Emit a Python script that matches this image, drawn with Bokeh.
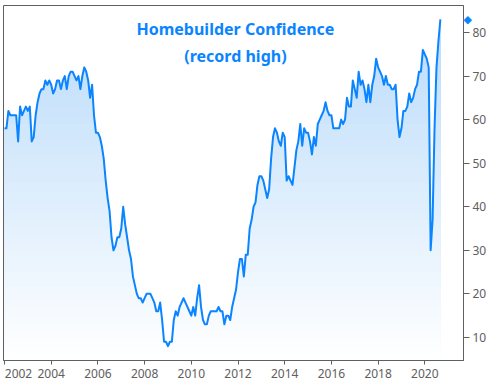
import numpy as np
from bokeh.plotting import figure
from bokeh.models import Range1d, FixedTicker, Label, CustomJSTickFormatter, LinearAxis
from bokeh.embed import file_html
from bokeh.resources import INLINE

# NAHB Housing Market Index, monthly, Jan 2002 - Sep 2020
start_year = 2002
hmi_2002 = [58, 58, 62, 61, 61, 61, 61, 55, 63, 61, 62, 63]
hmi_2003 = [62, 63, 55, 56, 61, 64, 66, 67, 67, 69, 68, 69]
hmi_2004 = [68, 66, 67, 69, 69, 67, 69, 70, 67, 70, 71, 71]
hmi_2005 = [70, 69, 70, 67, 70, 72, 71, 69, 65, 68, 61, 57]
hmi_2006 = [57, 56, 54, 51, 46, 42, 39, 33, 30, 31, 33, 33]
hmi_2007 = [35, 40, 36, 33, 30, 28, 24, 22, 20, 19, 19, 18]
hmi_2008 = [19, 20, 20, 20, 19, 18, 16, 16, 18, 14, 9, 9]
hmi_2009 = [8, 9, 9, 14, 16, 15, 17, 18, 19, 18, 17, 16]
hmi_2010 = [15, 17, 15, 19, 22, 17, 14, 13, 13, 15, 16, 16]
hmi_2011 = [16, 16, 17, 16, 16, 13, 15, 15, 14, 17, 19, 21]
hmi_2012 = [25, 28, 28, 24, 29, 29, 35, 37, 40, 41, 45, 47]
hmi_2013 = [47, 46, 44, 42, 44, 51, 56, 58, 57, 55, 54, 57]
hmi_2014 = [56, 46, 47, 46, 45, 49, 53, 55, 59, 54, 58, 57]
hmi_2015 = [57, 55, 52, 56, 54, 59, 60, 61, 62, 64, 62, 61]
hmi_2016 = [61, 58, 58, 58, 58, 60, 59, 60, 65, 63, 63, 69]
hmi_2017 = [67, 65, 71, 68, 69, 67, 64, 68, 64, 68, 70, 74]
hmi_2018 = [72, 71, 70, 68, 70, 68, 68, 67, 67, 68, 60, 56]
hmi_2019 = [58, 62, 62, 63, 66, 64, 65, 67, 68, 71, 71, 76]
hmi_2020 = [75, 74, 72, 30, 37, 58, 72, 78, 83]

x_tick_years = [2002, 2004, 2006, 2008, 2010, 2012, 2014, 2016, 2018, 2020]
y_ticks = [10, 20, 30, 40, 50, 60, 70, 80]
title_line1 = "Homebuilder Confidence"
title_line2 = "(record high)"

values = (hmi_2002 + hmi_2003 + hmi_2004 + hmi_2005 + hmi_2006 + hmi_2007 +
          hmi_2008 + hmi_2009 + hmi_2010 + hmi_2011 + hmi_2012 + hmi_2013 +
          hmi_2014 + hmi_2015 + hmi_2016 + hmi_2017 + hmi_2018 + hmi_2019 + hmi_2020)
vals = np.array(values, dtype=float)
xs = np.array([start_year + k / 12.0 for k in range(len(vals))])
last_val = float(vals[-1])

BLUE = "#0a84ff"
GRAY = "#606060"
x0, x1 = 2001.957, 2021.657
y0, y1 = 4.7, 86.2

p = figure(frame_width=460, frame_height=355, output_backend="svg", toolbar_location=None,
           x_range=Range1d(x0, x1), y_range=Range1d(y0, y1),
           y_axis_location=None, min_border_left=3, min_border_top=5,
           min_border_right=31, min_border_bottom=0)
p.background_fill_color = "white"
p.border_fill_color = "white"
p.outline_line_color = GRAY
p.outline_line_width = 1
p.xgrid.visible = False
p.ygrid.visible = False

# gradient fill under the line (stacked opaque layers)
top_rgb = (183, 218, 250)
N = 48
levels = np.linspace(y1, y0, N + 1)
for k in range(N):
    hi, lo = levels[k], levels[k + 1]
    t = ((hi + lo) / 2 - y0) / (y1 - y0)
    c = tuple(int(round(255 + t * (tc - 255))) for tc in top_rgb)
    col = "#%02x%02x%02x" % c
    p.varea(x=xs, y1=y0, y2=np.minimum(vals, hi), fill_color=col, fill_alpha=1.0)

p.line(xs, vals, line_color=BLUE, line_width=2, line_join="round")

# x axis: tick marks as minor ticks, labels as major ticks (first label nudged inside)
xa = p.xaxis[0]
xa.axis_label = None
xa.axis_line_color = GRAY
label_pos = [x_tick_years[0] + 0.6] + x_tick_years[1:]
xa.ticker = FixedTicker(ticks=label_pos, minor_ticks=x_tick_years)
xa.formatter = CustomJSTickFormatter(code="return String(Math.floor(tick + 1e-6));")
xa.major_tick_line_color = None
xa.major_tick_in = 0
xa.major_tick_out = 0
xa.minor_tick_line_color = GRAY
xa.minor_tick_in = 0
xa.minor_tick_out = 4
xa.major_label_standoff = 4
xa.major_label_text_font = "Noto Sans"
xa.major_label_text_font_size = "12px"
xa.major_label_text_color = GRAY

# inner right axis: value ticks
ya = LinearAxis(ticker=FixedTicker(ticks=y_ticks))
ya.axis_label = None
ya.axis_line_color = GRAY
ya.major_tick_line_color = GRAY
ya.minor_tick_line_color = None
ya.major_tick_in = 0
ya.major_tick_out = 6
ya.major_label_standoff = 3
ya.major_label_text_font = "Noto Sans"
ya.major_label_text_font_size = "12px"
ya.major_label_text_color = GRAY
p.add_layout(ya, "right")

# outer right axis: only the last-value diamond marker, pulled back beside the frame
mark_axis = LinearAxis(ticker=FixedTicker(ticks=[last_val]),
                       major_label_overrides={last_val: "\u25c6"})
mark_axis.axis_label = None
mark_axis.axis_line_color = None
mark_axis.major_tick_line_color = None
mark_axis.minor_tick_line_color = None
mark_axis.major_tick_in = 0
mark_axis.major_tick_out = 0
mark_axis.major_label_standoff = -26
mark_axis.major_label_text_font = "DejaVu Sans"
mark_axis.major_label_text_font_size = "11px"
mark_axis.major_label_text_color = BLUE
p.add_layout(mark_axis, "right")

# title inside the plot
p.add_layout(Label(x=2011.89, y=80.9, text=title_line1, text_align="center",
                   text_baseline="alphabetic", text_font="Noto Sans",
                   text_font_style="bold", text_font_size="16px", text_color=BLUE))
p.add_layout(Label(x=2011.89, y=74.6, text=title_line2, text_align="center",
                   text_baseline="alphabetic", text_font="Noto Sans",
                   text_font_style="bold", text_font_size="16px", text_color=BLUE))

open("out.html", "w").write(file_html(p, INLINE))
